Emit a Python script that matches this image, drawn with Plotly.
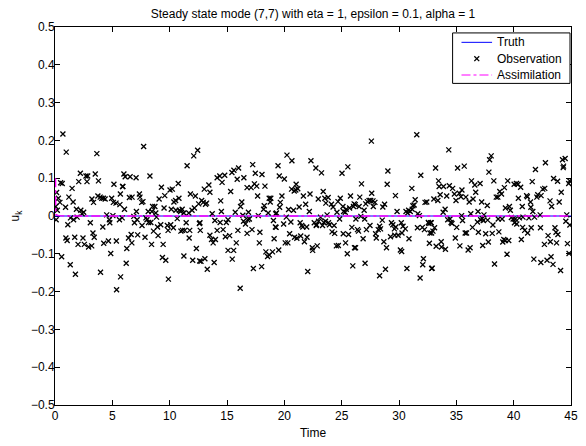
import plotly.graph_objects as go

# ---------------- data ----------------
title_text = "Steady state mode (7,7) with eta = 1, epsilon = 0.1, alpha = 1"
legend_names = ["Truth", "Observation", "Assimilation"]
x_ticks = [0, 5, 10, 15, 20, 25, 30, 35, 40, 45]
y_ticks = [0.5, 0.4, 0.3, 0.2, 0.1, 0.0, -0.1, -0.2, -0.3, -0.4, -0.5]
y_ticklabels = ["0.5", "0.4", "0.3", "0.2", "0.1", "0", "\u22120.1", "\u22120.2",
                "\u22120.3", "\u22120.4", "\u22120.5"]

truth_time = [0, 45]
truth_value = [0.0, 0.0]

assim_time = [0.05, 0.07, 0.3, 1.0, 45.0]
assim_value = [0.1, 0.004, 0.001, 0.0, 0.0]

obs_t1 = [0.69, 0.98, 3.65, 0.49, 0.63, 2.21, 2.70, 2.85, 3.51, 2.07,
          2.79, 3.79, 5.14, 5.89, 1.49, 0.14, 0.29, 1.21, 1.58, 0.43,
          0.06, 0.92, 0.20, 1.87, 2.25, 2.50, 2.36, 3.22, 3.36, 3.74,
          3.94, 4.08, 4.22, 4.37, 4.94, 5.09, 5.32, 5.66, 5.70, 1.35,
          1.62, 1.93, 0.10, 4.51, 4.74, 5.05, 5.62, 5.86, 3.08, 1.12,
          4.17, 4.78, 3.31, 3.42, 0.95, 1.06, 1.72, 2.44, 2.01, 2.56,
          2.93, 3.20, 4.25, 4.66, 5.35, 4.86, 0.58, 1.33, 1.78, 3.97,
          5.72, 5.37]
obs_v1 = [0.217, 0.169, 0.165, 0.088, 0.086, 0.113, 0.106, 0.106, 0.111, 0.091,
          0.091, 0.093, 0.084, 0.078, 0.073, 0.062, 0.047, 0.050, 0.037, 0.036,
          0.025, 0.023, 0.015, 0.018, 0.015, 0.010, 0.006, 0.045, 0.036, 0.053,
          0.050, 0.047, 0.047, 0.045, 0.047, 0.036, 0.034, 0.030, 0.058, -0.005,
          -0.010, -0.003, -0.010, 0.003, -0.010, 0.001, -0.010, -0.005, -0.018, -0.023,
          -0.029, -0.018, -0.045, -0.056, -0.058, -0.065, -0.056, -0.058, -0.075, -0.075,
          -0.082, -0.079, -0.072, -0.066, -0.066, -0.099, -0.108, -0.129, -0.154, -0.149,
          -0.161, -0.195]

obs_t2 = [7.73, 12.44, 12.10, 11.52, 6.01, 6.12, 6.55, 7.07, 8.28, 5.92,
          9.28, 10.75, 10.03, 10.23, 9.57, 7.36, 7.41, 6.49, 6.72, 11.81,
          12.24, 10.81, 9.08, 7.56, 7.67, 10.37, 10.52, 12.53, 8.51, 8.71,
          9.51, 6.06, 7.10, 8.13, 8.45, 8.79, 10.14, 10.55, 10.84, 10.95,
          11.09, 11.24, 11.67, 11.95, 12.16, 6.87, 7.16, 7.93, 8.02, 8.85,
          10.66, 6.93, 8.16, 8.36, 7.59, 9.22, 9.80, 10.09, 10.32, 8.94,
          11.44, 12.59, 9.86, 10.98, 11.12, 11.32, 11.75, 8.59, 8.99, 6.64,
          7.21, 7.85, 6.41, 11.70, 6.70, 8.42, 9.43, 6.26, 12.33, 9.37,
          9.66, 11.24, 12.01, 12.62, 6.21, 9.89]
obs_v2 = [0.184, 0.174, 0.159, 0.133, 0.111, 0.104, 0.104, 0.101, 0.106, 0.078,
          0.076, 0.086, 0.069, 0.071, 0.054, 0.058, 0.050, 0.049, 0.050, 0.058,
          0.053, 0.047, 0.045, 0.036, 0.038, 0.037, 0.041, 0.032, 0.025, 0.025,
          0.021, 0.018, 0.012, 0.012, 0.012, 0.008, 0.018, 0.015, 0.015, 0.012,
          0.018, 0.008, 0.008, 0.015, 0.021, -0.001, -0.010, -0.005, -0.010, -0.003,
          -0.007, -0.018, -0.017, -0.017, -0.025, -0.023, -0.025, -0.023, -0.031, -0.029,
          -0.018, -0.020, -0.038, -0.040, -0.038, -0.038, -0.038, -0.040, -0.052, -0.049,
          -0.050, -0.056, -0.058, -0.058, -0.071, -0.075, -0.075, -0.086, -0.086, -0.110,
          -0.117, -0.106, -0.117, -0.119, -0.125, -0.167]

obs_t3 = [17.24, 16.01, 15.60, 15.43, 14.80, 14.37, 14.14, 17.47, 18.05, 16.47,
          15.89, 14.57, 17.39, 17.59, 18.31, 16.75, 17.10, 13.42, 13.02, 13.51,
          15.32, 17.67, 18.68, 18.82, 18.77, 12.79, 12.93, 13.13, 13.22, 14.45,
          16.29, 16.18, 18.25, 18.19, 14.51, 15.72, 16.87, 13.71, 18.59, 19.25,
          16.38, 17.73, 16.95, 16.81, 13.94, 14.40, 14.94, 15.09, 16.44, 16.61,
          19.05, 12.64, 19.28, 14.14, 14.66, 12.67, 15.95, 17.18, 17.87, 16.75,
          13.51, 15.23, 14.86, 13.65, 13.99, 13.79, 15.81, 17.82, 19.11, 15.09,
          15.58, 18.39, 18.97, 18.54, 18.68, 13.07, 12.73, 13.88, 15.46, 13.28,
          18.02, 17.30, 16.15]
obs_v3 = [0.136, 0.127, 0.121, 0.115, 0.108, 0.106, 0.101, 0.113, 0.110, 0.101,
          0.097, 0.089, 0.085, 0.079, 0.079, 0.075, 0.075, 0.082, 0.071, 0.063,
          0.065, 0.053, 0.047, 0.047, 0.037, 0.041, 0.036, 0.031, 0.034, 0.040,
          0.037, 0.025, 0.027, 0.018, 0.012, 0.010, 0.010, 0.006, 0.008, 0.006,
          0.002, 0.001, -0.008, -0.010, -0.012, -0.017, -0.017, -0.010, -0.014, -0.021,
          -0.012, -0.018, -0.030, -0.038, -0.036, -0.038, -0.038, -0.036, -0.043, -0.046,
          -0.051, -0.052, -0.055, -0.062, -0.062, -0.071, -0.071, -0.071, -0.060, -0.091,
          -0.091, -0.095, -0.095, -0.107, -0.103, -0.113, -0.120, -0.123, -0.114, -0.141,
          -0.134, -0.139, -0.191]

obs_t4 = [20.23, 20.66, 22.32, 19.45, 22.75, 25.54, 23.24, 25.03, 19.56, 20.00,
          21.03, 20.63, 21.00, 21.17, 20.86, 23.39, 19.79, 21.66, 22.24, 22.96,
          23.53, 23.82, 25.77, 24.88, 24.68, 19.65, 19.59, 21.86, 23.62, 24.11,
          24.25, 25.11, 25.40, 25.69, 26.03, 21.29, 20.37, 20.80, 22.18, 24.59,
          25.17, 25.31, 19.31, 23.73, 20.17, 24.82, 23.16, 20.57, 19.94, 21.38,
          21.52, 21.95, 21.61, 22.61, 22.81, 22.99, 23.44, 23.59, 23.85, 23.93,
          23.33, 22.78, 24.34, 25.89, 19.22, 24.16, 24.39, 25.14, 25.60, 20.46,
          20.89, 21.09, 21.43, 21.98, 20.08, 20.31, 21.75, 25.34, 22.87, 22.44,
          22.47, 24.54, 24.71, 26.12, 19.51, 25.49, 25.97, 22.04]
obs_v4 = [0.161, 0.146, 0.146, 0.133, 0.127, 0.130, 0.114, 0.113, 0.106, 0.098,
          0.084, 0.071, 0.069, 0.072, 0.066, 0.065, 0.053, 0.053, 0.058, 0.045,
          0.047, 0.049, 0.053, 0.047, 0.038, 0.036, 0.023, 0.031, 0.034, 0.031,
          0.024, 0.025, 0.018, 0.021, 0.025, 0.024, 0.017, 0.015, 0.012, 0.010,
          0.012, 0.010, 0.008, 0.003, -0.003, -0.008, -0.003, -0.016, -0.021, -0.018,
          -0.025, -0.029, -0.029, -0.018, -0.023, -0.014, -0.017, -0.014, -0.018, -0.023,
          -0.025, -0.025, -0.025, -0.030, -0.029, -0.042, -0.046, -0.047, -0.049, -0.047,
          -0.056, -0.059, -0.053, -0.056, -0.071, -0.071, -0.068, -0.071, -0.079, -0.084,
          -0.091, -0.079, -0.078, -0.084, -0.090, -0.100, -0.132, -0.147]

obs_t5 = [31.55, 27.59, 29.03, 31.90, 26.73, 28.97, 31.12, 27.62, 29.69, 26.58,
          31.41, 32.27, 32.42, 27.24, 27.39, 27.53, 27.73, 27.90, 26.09, 26.18,
          28.74, 28.59, 26.52, 27.10, 27.76, 26.96, 31.21, 31.32, 31.15, 30.98,
          30.84, 30.61, 30.75, 29.83, 31.64, 31.78, 32.56, 32.62, 32.76, 26.67,
          26.24, 27.01, 28.54, 30.20, 30.35, 30.55, 29.34, 29.46, 29.60, 29.72,
          27.47, 28.31, 28.39, 28.19, 26.38, 26.47, 27.16, 31.61, 32.04, 32.22,
          27.96, 28.02, 29.26, 29.63, 29.92, 30.26, 32.70, 26.87, 30.87, 28.68,
          32.65, 26.21, 28.91, 30.12, 30.23, 32.13, 27.04, 32.07, 28.82, 30.69,
          32.85, 28.31, 31.84]
obs_v5 = [0.215, 0.198, 0.119, 0.108, 0.085, 0.084, 0.073, 0.060, 0.054, 0.050,
          0.043, 0.036, 0.037, 0.038, 0.041, 0.041, 0.040, 0.036, 0.032, 0.030,
          0.031, 0.024, 0.025, 0.032, 0.025, 0.015, 0.027, 0.029, 0.018, 0.012,
          0.015, 0.012, 0.008, 0.012, 0.006, 0.001, -0.017, -0.020, -0.018, -0.001,
          -0.008, -0.008, -0.011, -0.018, -0.027, -0.034, -0.018, -0.023, -0.034, -0.029,
          -0.025, -0.027, -0.034, -0.036, -0.036, -0.040, -0.036, -0.031, -0.030, -0.036,
          -0.047, -0.058, -0.055, -0.051, -0.051, -0.045, -0.045, -0.060, -0.060, -0.068,
          -0.072, -0.084, -0.084, -0.090, -0.094, -0.113, -0.125, -0.129, -0.141, -0.139,
          -0.139, -0.158, -0.164]

obs_t6 = [34.34, 38.04, 37.90, 33.19, 35.11, 35.69, 37.84, 36.32, 37.07, 36.61,
          38.27, 39.48, 33.45, 33.50, 33.88, 34.39, 34.68, 35.49, 35.26, 36.69,
          38.79, 38.94, 39.19, 33.59, 34.16, 34.83, 35.40, 35.83, 38.48, 38.62,
          33.04, 33.39, 34.97, 36.12, 36.46, 37.21, 37.70, 39.28, 39.63, 39.71,
          34.02, 33.85, 36.89, 36.26, 37.41, 35.46, 39.80, 34.25, 34.45, 34.54,
          34.62, 35.54, 36.84, 37.12, 37.27, 37.35, 37.73, 38.65, 38.99, 32.81,
          35.03, 36.41, 38.19, 33.10, 32.96, 32.84, 36.92, 37.56, 38.13, 38.71,
          35.77, 35.89, 34.91, 39.14, 39.28, 39.57, 39.05, 37.79, 33.68, 33.24,
          33.71, 34.05, 35.31, 36.20, 36.03, 37.30, 39.42, 38.33, 32.90]
obs_v6 = [0.175, 0.159, 0.149, 0.127, 0.127, 0.132, 0.116, 0.093, 0.086, 0.082,
          0.093, 0.093, 0.093, 0.078, 0.078, 0.080, 0.073, 0.069, 0.060, 0.063,
          0.065, 0.058, 0.075, 0.056, 0.053, 0.058, 0.051, 0.050, 0.050, 0.050,
          0.045, 0.041, 0.041, 0.037, 0.045, 0.037, 0.028, 0.021, 0.025, 0.015,
          0.018, 0.010, 0.012, 0.006, 0.003, 0.001, -0.004, -0.010, -0.008, -0.017,
          -0.020, -0.012, -0.016, -0.010, -0.007, -0.012, -0.011, -0.008, -0.008, -0.018,
          -0.030, -0.030, -0.024, -0.031, -0.040, -0.045, -0.043, -0.047, -0.046, -0.042,
          -0.045, -0.045, -0.058, -0.062, -0.065, -0.065, -0.069, -0.069, -0.068, -0.080,
          -0.082, -0.088, -0.079, -0.084, -0.090, -0.078, -0.101, -0.127, -0.138]

obs_t7 = [41.90, 42.77, 44.26, 44.49, 44.35, 44.32, 40.04, 40.24, 40.38, 40.61,
          41.62, 41.13, 41.19, 40.41, 41.47, 42.02, 42.10, 42.54, 42.71, 43.48,
          43.83, 42.39, 43.17, 43.31, 44.15, 43.97, 44.88, 44.80, 40.75, 41.50,
          41.67, 42.31, 39.95, 40.15, 40.50, 40.81, 41.33, 41.82, 44.63, 44.55,
          44.90, 40.07, 40.27, 40.78, 40.96, 41.22, 41.53, 42.34, 43.60, 43.69,
          43.86, 40.67, 43.00, 42.68, 43.20, 43.74, 44.69, 44.83, 41.76, 42.91,
          43.26, 43.43, 42.37, 44.09]
obs_v7 = [0.123, 0.141, 0.149, 0.152, 0.132, 0.128, 0.084, 0.086, 0.084, 0.076,
          0.091, 0.054, 0.051, 0.047, 0.037, 0.050, 0.056, 0.071, 0.073, 0.099,
          0.092, 0.054, 0.040, 0.025, 0.063, 0.037, 0.093, 0.086, 0.025, 0.023,
          0.012, 0.003, -0.008, -0.008, -0.005, -0.003, -0.005, -0.003, 0.003, -0.014,
          -0.024, -0.018, -0.021, -0.030, -0.038, -0.045, -0.031, -0.031, -0.031, -0.043,
          -0.049, -0.062, -0.052, -0.075, -0.068, -0.071, -0.073, -0.099, -0.114, -0.117,
          -0.108, -0.128, -0.123, -0.144]

time_lists = [obs_t1, obs_t2, obs_t3, obs_t4, obs_t5, obs_t6, obs_t7]
value_lists = [obs_v1, obs_v2, obs_v3, obs_v4, obs_v5, obs_v6, obs_v7]
for tl, vl in zip(time_lists, value_lists):
    assert len(tl) == len(vl), (len(tl), len(vl))

obs_time = [t for tl in time_lists for t in tl]
obs_value = [v for vl in value_lists for v in vl]

# ---------------- figure ----------------
FONT = "Liberation Sans, Arial, Helvetica, sans-serif"
FS = 12
W, H = 586, 446
ML, MR, MT, MB = 55, 8, 27, 37
PW, PH = W - ML - MR, H - MT - MB

BLUE = "rgb(0,0,255)"
MAGENTA = "rgb(255,0,255)"


def px(x):   # figure pixel -> paper x
    return (x - ML) / PW


def py(y):   # figure pixel -> paper y
    return (H - MB - y) / PH


fig = go.Figure()
fig.add_trace(go.Scatter(
    x=truth_time, y=truth_value, mode="lines", name=legend_names[0],
    line=dict(color=BLUE, width=1)))
fig.add_trace(go.Scatter(
    x=obs_time, y=obs_value, mode="markers", name=legend_names[1],
    marker=dict(symbol="x-thin", size=5, color="black",
                line=dict(color="black", width=1.3))))
fig.add_trace(go.Scatter(
    x=assim_time, y=assim_value, mode="lines", name=legend_names[2],
    line=dict(color=MAGENTA, width=1.4, dash="dashdot")))

axis_common = dict(
    showline=True, linecolor="black", linewidth=1, mirror="ticks",
    ticks="inside", ticklen=5, tickwidth=1, tickcolor="black",
    showgrid=False, zeroline=False, layer="below traces",
    tickfont=dict(family=FONT, size=FS, color="black"),
)

fig.update_xaxes(range=[0, 45], tickvals=x_ticks,
                 title=dict(text="Time", font=dict(family=FONT, size=FS, color="black"),
                            standoff=6),
                 **axis_common)
fig.update_yaxes(range=[-0.5, 0.5], tickvals=y_ticks, ticktext=y_ticklabels,
                 ticklabelstandoff=-3,
                 title=dict(text="u<sub>k</sub>", font=dict(family=FONT, size=FS, color="black"),
                            standoff=8),
                 **axis_common)

# ----- legend box drawn in MATLAB style -----
box_l, box_r, box_t, box_b = 458, 577, 33, 84
rows = [42.5, 59.0, 75.5]
samp_l, samp_r, text_x = 467, 498, 501
mk = 2.5

shapes = [
    dict(type="rect", xref="paper", yref="paper",
         x0=px(box_l), x1=px(box_r), y0=py(box_b), y1=py(box_t),
         line=dict(color="black", width=1), fillcolor="white", layer="above"),
    dict(type="line", xref="paper", yref="paper",
         x0=px(samp_l), x1=px(samp_r), y0=py(rows[0]), y1=py(rows[0]),
         line=dict(color=BLUE, width=1), layer="above"),
    dict(type="line", xref="paper", yref="paper",
         x0=px((samp_l + samp_r) / 2 - mk), x1=px((samp_l + samp_r) / 2 + mk),
         y0=py(rows[1] - mk), y1=py(rows[1] + mk),
         line=dict(color="black", width=1.3), layer="above"),
    dict(type="line", xref="paper", yref="paper",
         x0=px((samp_l + samp_r) / 2 - mk), x1=px((samp_l + samp_r) / 2 + mk),
         y0=py(rows[1] + mk), y1=py(rows[1] - mk),
         line=dict(color="black", width=1.3), layer="above"),
    dict(type="line", xref="paper", yref="paper",
         x0=px(samp_l), x1=px(samp_r), y0=py(rows[2]), y1=py(rows[2]),
         line=dict(color=MAGENTA, width=1.2, dash="dashdot"), layer="above"),
]
annotations = [
    dict(text=name, xref="paper", yref="paper", x=px(text_x), y=py(r),
         xanchor="left", yanchor="middle", showarrow=False,
         font=dict(family=FONT, size=FS, color="black"))
    for name, r in zip(legend_names, rows)
]

fig.update_layout(
    width=W, height=H,
    margin=dict(l=ML, r=MR, t=MT, b=MB),
    paper_bgcolor="white", plot_bgcolor="white",
    font=dict(family=FONT, size=FS, color="black"),
    title=dict(text=title_text, x=0.5, xref="paper", xanchor="center",
               y=1 - 14 / H, yref="container", yanchor="middle",
               font=dict(family=FONT, size=FS, color="black")),
    showlegend=False,
    shapes=shapes,
    annotations=annotations,
)

fig.write_html("out.html")
